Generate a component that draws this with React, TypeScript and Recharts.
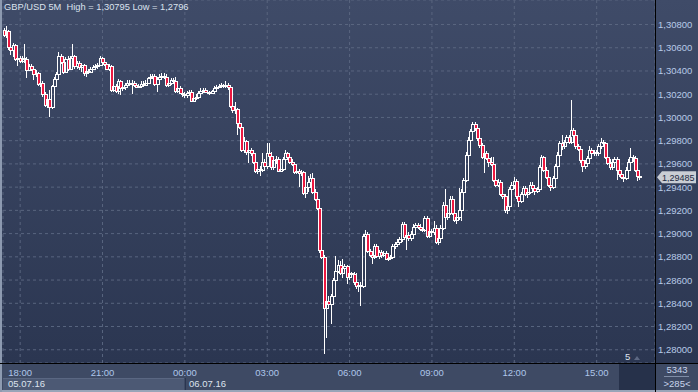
import React from 'react';
import { ComposedChart, Bar, XAxis, YAxis, CartesianGrid, ReferenceLine } from 'recharts';

// GBP/USD 5M bars, 05.07.16 17:25 -> 06.07.16 16:40 (open = previous close)
const FIRST_OPEN = 1.3075;
const closes = [
  1.3071, 1.3074, 1.3061, 1.3058, 1.3062, 1.305, 1.3051, 1.3049, 1.3051, 1.305,
  1.3041, 1.3044, 1.3042, 1.3037, 1.3038, 1.3029, 1.303, 1.302, 1.3011, 1.3016,
  1.3009, 1.3027, 1.3033, 1.3037, 1.3053, 1.3048, 1.3039, 1.305, 1.3042, 1.3051,
  1.3053, 1.3044, 1.3047, 1.3043, 1.3045, 1.3038, 1.304, 1.3039, 1.3042, 1.3043,
  1.3044, 1.3045, 1.3051, 1.3048, 1.3046, 1.3042, 1.3044, 1.3024, 1.3027, 1.3023,
  1.3031, 1.3025, 1.3026, 1.3028, 1.303, 1.3029, 1.303, 1.3028, 1.3026, 1.3027,
  1.3029, 1.3028, 1.303, 1.3034, 1.3035, 1.3036, 1.3029, 1.3033, 1.3035, 1.3036,
  1.3035, 1.3028, 1.303, 1.3032, 1.3031, 1.3023, 1.3025, 1.3021, 1.302, 1.3019,
  1.3021, 1.3022, 1.3014, 1.3017, 1.3018, 1.3021, 1.3023, 1.3024, 1.3022, 1.3022,
  1.3021, 1.3023, 1.3025, 1.3026, 1.3027, 1.3028, 1.3027, 1.3028, 1.3026, 1.301,
  1.3006, 1.3007, 1.2995, 1.2992, 1.2972, 1.298, 1.297, 1.2972, 1.2969, 1.2962,
  1.2954, 1.2956, 1.2955, 1.2962, 1.2958, 1.2969, 1.2967, 1.2957, 1.2963, 1.2964,
  1.2954, 1.2956, 1.2964, 1.2969, 1.2966, 1.2962, 1.296, 1.2953, 1.2954, 1.2952,
  1.2953, 1.2935, 1.294, 1.2944, 1.2948, 1.2936, 1.293, 1.2922, 1.2886, 1.288,
  1.2836, 1.2842, 1.2839, 1.2846, 1.286, 1.2868, 1.2873, 1.2866, 1.287, 1.2872,
  1.2863, 1.2866, 1.2865, 1.2858, 1.2855, 1.2856, 1.2855, 1.2898, 1.29, 1.2885,
  1.2882, 1.288, 1.2889, 1.2881, 1.2884, 1.2882, 1.2883, 1.2878, 1.2879, 1.288,
  1.2889, 1.2891, 1.2893, 1.2895, 1.2908, 1.2897, 1.2899, 1.2896, 1.29, 1.2906,
  1.2907, 1.2906, 1.2904, 1.2903, 1.2913, 1.2898, 1.2902, 1.2901, 1.2905, 1.2893,
  1.2896, 1.2905, 1.2925, 1.2914, 1.2918, 1.293, 1.2918, 1.2912, 1.2914, 1.292,
  1.2936, 1.2946, 1.2968, 1.2981, 1.2988, 1.2994, 1.2991, 1.2982, 1.2976, 1.2966,
  1.2969, 1.2965, 1.2962, 1.296, 1.2946, 1.2942, 1.2944, 1.2934, 1.2932, 1.292,
  1.2924, 1.2938, 1.2942, 1.2945, 1.2932, 1.2928, 1.2934, 1.2939, 1.2934, 1.2936,
  1.2942, 1.2939, 1.2937, 1.2938, 1.2957, 1.2966, 1.2955, 1.2949, 1.2942, 1.294,
  1.2948, 1.2958, 1.2968, 1.2978, 1.2975, 1.2979, 1.2983, 1.2979, 1.2989, 1.2985,
  1.2975, 1.2973, 1.2963, 1.2958, 1.2961, 1.2965, 1.2972, 1.2969, 1.297, 1.2969,
  1.2975, 1.2979, 1.2978, 1.2966, 1.2961, 1.2957, 1.2962, 1.2964, 1.2955, 1.2951,
  1.2949, 1.2948, 1.2955, 1.2962, 1.2966, 1.2965, 1.2955, 1.295, 1.29485,
];
const highs = [
  1.3077, 1.3079, 1.3075, 1.3064, 1.3064, 1.3063, 1.3053, 1.3053, 1.3053, 1.3063,
  1.3052, 1.3046, 1.3046, 1.3044, 1.3041, 1.3039, 1.3032, 1.3031, 1.3022, 1.302,
  1.3024, 1.3028, 1.3035, 1.3039, 1.3056, 1.3055, 1.305, 1.3052, 1.3053, 1.3053,
  1.3063, 1.3054, 1.3049, 1.3049, 1.3047, 1.3046, 1.3042, 1.3042, 1.3043, 1.3045,
  1.3046, 1.3047, 1.3053, 1.3052, 1.305, 1.3047, 1.3046, 1.3045, 1.303, 1.3029,
  1.3033, 1.3032, 1.3029, 1.303, 1.3032, 1.3032, 1.3032, 1.3031, 1.303, 1.3029,
  1.3031, 1.3031, 1.3032, 1.3035, 1.3037, 1.3037, 1.3037, 1.3035, 1.3037, 1.3038,
  1.3038, 1.3037, 1.3032, 1.3034, 1.3034, 1.3035, 1.3027, 1.3027, 1.3023, 1.3022,
  1.3023, 1.3024, 1.3024, 1.3019, 1.302, 1.3023, 1.3025, 1.3025, 1.3025, 1.3024,
  1.3023, 1.3024, 1.3027, 1.3028, 1.3029, 1.303, 1.3029, 1.3031, 1.303, 1.3027,
  1.3012, 1.3013, 1.3008, 1.3007, 1.2993, 1.2983, 1.2981, 1.2975, 1.2974, 1.2971,
  1.2963, 1.2958, 1.2958, 1.2969, 1.2964, 1.2978, 1.2978, 1.297, 1.2966, 1.2967,
  1.2966, 1.2958, 1.2966, 1.2972, 1.297, 1.2967, 1.2964, 1.2962, 1.2956, 1.2956,
  1.2955, 1.2954, 1.2942, 1.295, 1.2951, 1.2952, 1.2938, 1.2932, 1.2923, 1.2888,
  1.2882, 1.2845, 1.2846, 1.2848, 1.2862, 1.2881, 1.2877, 1.2876, 1.2878, 1.2874,
  1.2873, 1.2868, 1.2867, 1.2867, 1.2866, 1.2858, 1.2858, 1.29, 1.2903, 1.2901,
  1.2887, 1.2884, 1.2891, 1.2891, 1.2886, 1.2886, 1.2885, 1.2885, 1.2881, 1.2882,
  1.2891, 1.2893, 1.2895, 1.2897, 1.291, 1.291, 1.2901, 1.2901, 1.2902, 1.2908,
  1.2909, 1.2909, 1.2908, 1.2906, 1.2915, 1.2915, 1.2904, 1.2904, 1.2911, 1.2907,
  1.2898, 1.2907, 1.2927, 1.2938, 1.2924, 1.2932, 1.2932, 1.292, 1.2916, 1.2939,
  1.2938, 1.2948, 1.297, 1.2983, 1.299, 1.2996, 1.2996, 1.2993, 1.2984, 1.2978,
  1.2971, 1.2971, 1.2967, 1.2966, 1.2966, 1.2948, 1.2947, 1.2946, 1.2936, 1.2934,
  1.2926, 1.294, 1.2944, 1.2949, 1.2947, 1.2937, 1.2936, 1.2941, 1.2941, 1.2938,
  1.2944, 1.2944, 1.2941, 1.294, 1.2959, 1.2968, 1.2967, 1.2957, 1.295, 1.2946,
  1.295, 1.296, 1.297, 1.298, 1.2985, 1.2981, 1.2985, 1.2985, 1.3015, 1.2991,
  1.2987, 1.2977, 1.2974, 1.2964, 1.2963, 1.2967, 1.2975, 1.2974, 1.2972, 1.2972,
  1.2977, 1.2982, 1.2981, 1.2979, 1.2968, 1.2964, 1.2964, 1.2966, 1.2966, 1.2957,
  1.2953, 1.2951, 1.2957, 1.2964, 1.2974, 1.2968, 1.2967, 1.2957, 1.2952,
];
const lows = [
  1.3069, 1.3068, 1.3058, 1.3054, 1.3052, 1.3049, 1.3044, 1.3047, 1.3047, 1.3047,
  1.3034, 1.304, 1.304, 1.3032, 1.3035, 1.3027, 1.3026, 1.3018, 1.3009, 1.3008,
  1.3, 1.3007, 1.3025, 1.3031, 1.3035, 1.3046, 1.3037, 1.3038, 1.304, 1.3041,
  1.3049, 1.3042, 1.3042, 1.3041, 1.3039, 1.3036, 1.3035, 1.3037, 1.3038, 1.3041,
  1.3041, 1.3042, 1.3044, 1.3046, 1.3044, 1.3041, 1.304, 1.3022, 1.3022, 1.3021,
  1.302, 1.3019, 1.3023, 1.3024, 1.3026, 1.3027, 1.302, 1.3026, 1.3025, 1.3025,
  1.3025, 1.3026, 1.3027, 1.3029, 1.3032, 1.3033, 1.3027, 1.3022, 1.3031, 1.3033,
  1.3033, 1.3026, 1.3026, 1.3028, 1.3029, 1.3021, 1.3021, 1.302, 1.3018, 1.3017,
  1.3017, 1.3019, 1.3013, 1.3013, 1.3015, 1.3017, 1.302, 1.3021, 1.3021, 1.302,
  1.3019, 1.302, 1.3022, 1.3024, 1.3025, 1.3026, 1.3025, 1.3025, 1.3024, 1.3008,
  1.3004, 1.3003, 1.2985, 1.299, 1.297, 1.2969, 1.2968, 1.2961, 1.2967, 1.296,
  1.2952, 1.2951, 1.295, 1.2953, 1.2955, 1.2956, 1.2964, 1.2955, 1.2955, 1.296,
  1.2953, 1.2953, 1.2954, 1.2962, 1.2963, 1.296, 1.2958, 1.2951, 1.2951, 1.294,
  1.295, 1.2933, 1.2931, 1.2936, 1.2939, 1.2934, 1.2928, 1.292, 1.2883, 1.2878,
  1.2796, 1.281, 1.2836, 1.2822, 1.2844, 1.2858, 1.2866, 1.2864, 1.2862, 1.2866,
  1.2857, 1.286, 1.2862, 1.2856, 1.2852, 1.285, 1.2838, 1.2853, 1.2888, 1.2883,
  1.288, 1.2874, 1.2878, 1.2879, 1.2878, 1.2879, 1.288, 1.2877, 1.2876, 1.2877,
  1.2878, 1.2887, 1.2889, 1.2891, 1.2893, 1.2895, 1.2886, 1.2894, 1.2894, 1.2898,
  1.2904, 1.2904, 1.2902, 1.2901, 1.2901, 1.2896, 1.2896, 1.2899, 1.2899, 1.2891,
  1.289, 1.2894, 1.2903, 1.2912, 1.2912, 1.2916, 1.2916, 1.291, 1.2908, 1.2912,
  1.2911, 1.2934, 1.2944, 1.2966, 1.2979, 1.2985, 1.2988, 1.298, 1.2974, 1.2964,
  1.2952, 1.2963, 1.2957, 1.2958, 1.2944, 1.294, 1.294, 1.2932, 1.293, 1.2918,
  1.2917, 1.2922, 1.2936, 1.2938, 1.293, 1.2923, 1.2926, 1.2932, 1.2932, 1.2931,
  1.2934, 1.2937, 1.2933, 1.2935, 1.2936, 1.2955, 1.2953, 1.2947, 1.294, 1.2937,
  1.2938, 1.2946, 1.2956, 1.2966, 1.2972, 1.2973, 1.2975, 1.2977, 1.2977, 1.2983,
  1.2973, 1.2971, 1.2961, 1.2953, 1.2956, 1.2959, 1.2963, 1.2967, 1.2967, 1.2967,
  1.2967, 1.2973, 1.2975, 1.2964, 1.2959, 1.2955, 1.2955, 1.296, 1.2946, 1.2949,
  1.2947, 1.2944, 1.2946, 1.2953, 1.296, 1.2962, 1.2953, 1.2945, 1.2946,
];

const SLOTS = 285; // bars visible in the window (last 6 empty)
const START_MIN = 17 * 60 + 25;
const BAR_MIN = 5;
const TIME_TICKS = ['18:00', '21:00', '00:00', '03:00', '06:00', '09:00', '12:00', '15:00'];
const PRICE_TICKS = [
  1.28, 1.282, 1.284, 1.286, 1.288, 1.29, 1.292, 1.294,
  1.296, 1.298, 1.3, 1.302, 1.304, 1.306, 1.308,
];
const Y_DOMAIN = [1.27886, 1.31011];
const LAST_PRICE = 1.29485;
const HIGH = '1,30795';
const LOW = '1,2796';

const pad = (n: number) => String(n).padStart(2, '0');
const slotTime = (i: number) => {
  const m = (START_MIN + i * BAR_MIN) % 1440;
  return pad(Math.floor(m / 60)) + ':' + pad(m % 60);
};

const data = Array.from({ length: SLOTS }, (_, i) => {
  const t = slotTime(i);
  if (i >= closes.length) return { t, range: null };
  const o = i === 0 ? FIRST_OPEN : closes[i - 1];
  return { t, o, c: closes[i], h: highs[i], l: lows[i], range: [lows[i], highs[i]] };
});

const fmt = (v: number) => v.toFixed(5).replace('.', ',');

const FONT = '"Liberation Sans", Arial, sans-serif';
const RED = '#ec1840';

function Candle(props: any) {
  const { x, y, width, height, payload } = props;
  if (!payload || payload.range == null) return null;
  const { o, c, h, l } = payload;
  const y0 = Math.min(y, y + height);
  const y1 = Math.max(y, y + height);
  const k = h === l ? 0 : (y1 - y0) / (h - l);
  const py = (v: number) => y0 + (h - v) * k;
  const cx = Math.floor(x + width / 2);
  const top = Math.round(py(Math.max(o, c)));
  const bot = Math.round(py(Math.min(o, c)));
  const hi = Math.round(y0);
  const lo = Math.round(y1);
  const wx = cx + 0.5;
  return (
    <g>
      {top > hi && <line x1={wx} x2={wx} y1={hi} y2={top} stroke="#fff" />}
      {lo > bot && <line x1={wx} x2={wx} y1={bot} y2={lo} stroke="#fff" />}
      {bot - top < 1 ? (
        <line x1={cx - 1} x2={cx + 3} y1={top + 0.5} y2={top + 0.5} stroke="#fff" />
      ) : (
        <rect x={cx - 0.5} y={top + 0.5} width={3} height={bot - top}
          fill={c < o ? RED : 'none'} stroke="#fff" />
      )}
    </g>
  );
}

function TimeTick(props: any) {
  const { x, payload } = props;
  return (
    <text x={x} y={376} textAnchor="middle" fill="#aec6ea" fontSize={9.5} fontFamily={FONT}>
      {payload.value}
    </text>
  );
}

function PriceTick(props: any) {
  const { y, payload } = props;
  return (
    <text x={658} y={y + 3.5} fill="#b8cae8" fontSize={9.5} fontFamily={FONT}>
      {fmt(payload.value)}
    </text>
  );
}

function PriceTag(props: any) {
  const vb = props.viewBox || {};
  const x = (vb.x || 0) + (vb.width || 0) + 2;
  const y = vb.y || 0;
  return (
    <g>
      <path d={`M${x},${y} L${x + 5},${y - 6} L${x + 39},${y - 6} L${x + 39},${y + 6} L${x + 5},${y + 6} Z`}
        fill="#c9cdd4" />
      <text x={x + 5} y={y + 3.5} fill="#1c2840" fontSize={9} fontFamily={FONT}>
        {fmt(LAST_PRICE)}
      </text>
    </g>
  );
}

export default function App() {
  const abs = (s: React.CSSProperties): React.CSSProperties => ({ position: 'absolute', ...s });
  return (
    <div style={abs({ left: 0, top: 0, width: 698, height: 392, background: '#3e4a64', overflow: 'hidden', fontFamily: FONT })}>
      <div style={abs({ left: 0, top: 0, width: 698, height: 363, background: 'linear-gradient(#3f4b68, #2b3651)' })} />
      {/* date strip */}
      <div style={abs({ left: 3, top: 378, width: 181, height: 12, background: '#4c5974', borderTop: '1px solid #5a6782' })} />
      <div style={abs({ left: 185, top: 378, width: 1, height: 12, background: '#2a3550' })} />
      <div style={abs({ left: 8, top: 378, fontSize: 9.5, color: '#dde3ee' })}>05.07.16</div>
      <div style={abs({ left: 189, top: 378, fontSize: 9.5, color: '#dde3ee' })}>06.07.16</div>
      <div style={abs({ left: 619, top: 364, width: 36, height: 26, background: '#26314a' })} />
      <div style={abs({ left: 0, top: 390, width: 698, height: 2, background: '#98a4b8' })} />
      <div style={abs({ left: 0, top: 0, width: 2, height: 392, background: '#8d9ab0' })} />
      {/* right-bottom counters */}
      <div style={abs({ left: 656, top: 364, width: 42, textAlign: 'center', fontSize: 9.5, color: '#c8d4ec' })}>5343</div>
      <div style={abs({ left: 664, top: 376, width: 25, height: 1, background: '#7f8da6' })} />
      <div style={abs({ left: 656, top: 378, width: 42, textAlign: 'center', fontSize: 9.5, color: '#c8d4ec' })}>&gt;285&lt;</div>
      <div style={abs({ left: 625, top: 351, fontSize: 9.5, color: '#dde3ee' })}>5</div>
      <div style={abs({ left: 634, top: 356, width: 0, height: 0, borderLeft: '3px solid transparent', borderRight: '3px solid transparent', borderBottom: '4px solid #5d6883' })} />
      <div style={abs({ left: 0, top: 0 })}>
        <ComposedChart width={698} height={392} data={data} barCategoryGap={0}
          margin={{ top: 0, right: 0, bottom: 0, left: 3 }}>
          <CartesianGrid stroke="#59657f" strokeDasharray="3 3" />
          <XAxis dataKey="t" ticks={TIME_TICKS} interval={0} height={29}
            tickLine={false} axisLine={false} tick={<TimeTick />} />
          <YAxis orientation="right" type="number" width={43} domain={Y_DOMAIN} ticks={PRICE_TICKS}
            allowDataOverflow tickLine={false} axisLine={false} tick={<PriceTick />} />
          <ReferenceLine y={LAST_PRICE} stroke="none" label={<PriceTag />} />
          <Bar dataKey="range" shape={<Candle />} isAnimationActive={false} />
        </ComposedChart>
      </div>
      <div style={abs({ left: 655, top: 0, width: 1, height: 392, background: '#000' })} />
      <div style={abs({ left: 0, top: 363, width: 698, height: 1, background: '#000' })} />
      <div style={abs({ left: 4, top: 2, fontSize: 9.3, color: '#dbe2ee', whiteSpace: 'pre' })}>
        {`GBP/USD 5M  High = ${HIGH} Low = ${LOW}`}
      </div>
    </div>
  );
}
